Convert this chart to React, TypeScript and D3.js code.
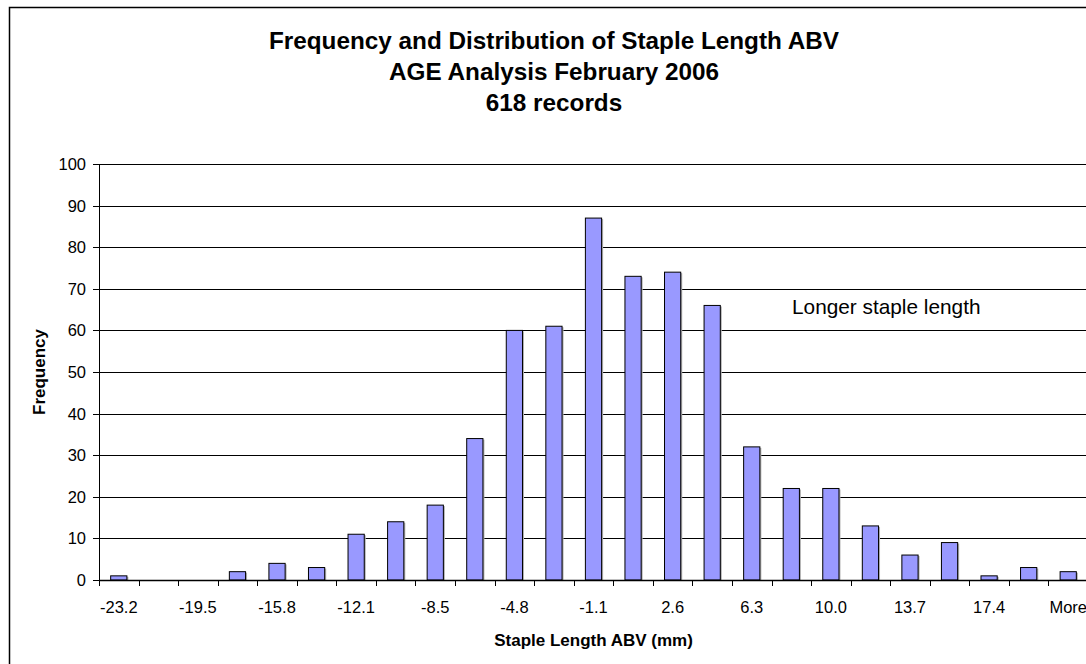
import { scaleBand, scaleLinear } from 'd3'

const binLabels = [
  '-23.2', '-21.4', '-19.5', '-17.7', '-15.8', '-14.0', '-12.1', '-10.3', '-8.5', '-6.6',
  '-4.8', '-2.9', '-1.1', '0.8', '2.6', '4.5', '6.3', '8.1', '10.0', '11.8',
  '13.7', '15.5', '17.4', '19.2', 'More',
]
const frequency = [1, 0, 0, 2, 4, 3, 11, 14, 18, 34, 60, 61, 87, 73, 74, 66, 32, 22, 22, 13, 6, 9, 1, 3, 2]
const yTicks = [0, 10, 20, 30, 40, 50, 60, 70, 80, 90, 100]
const titleLines = ['Frequency and Distribution of Staple Length ABV', 'AGE Analysis February 2006', '618 records']

const font = '"Liberation Sans", Arial, sans-serif'

export default function App() {
  const width = 1086
  const height = 664
  const left = 99
  const right = 1088
  const top = 164
  const bottom = 580

  const x = scaleBand<string>().domain(binLabels).range([left, right]).paddingInner(0.59).paddingOuter(0.295)
  const y = scaleLinear().domain([0, 100]).range([bottom, top])
  const step = x.step()

  return (
    <svg
      width={width}
      height={height}
      viewBox={`0 0 ${width} ${height}`}
      style={{ position: 'absolute', left: 0, top: 0, background: '#fff' }}
      fontFamily={font}
    >
      <rect x={9.5} y={7.5} width={1110} height={700} fill="#fff" stroke="#000" strokeWidth={1.5} />

      {titleLines.map((line, i) => (
        <text key={line} x={554} y={49 + i * 31} textAnchor="middle" fontSize={24.3} fontWeight="bold" fill="#000">
          {line}
        </text>
      ))}

      {yTicks.map((t) => (
        <g key={t}>
          {t > 0 && <line x1={left} x2={right + 10} y1={Math.round(y(t)) + 0.5} y2={Math.round(y(t)) + 0.5} stroke="#000" strokeWidth={1} />}
          <line x1={left - 6} x2={left} y1={Math.round(y(t)) + 0.5} y2={Math.round(y(t)) + 0.5} stroke="#000" />
          <text x={86} y={y(t)} dy="0.36em" textAnchor="end" fontSize={16.5} fill="#000">
            {t}
          </text>
        </g>
      ))}

      {frequency.map((v, i) => {
        if (v === 0) return null
        const bx = x(binLabels[i]) ?? 0
        const by = y(v)
        return (
          <g key={binLabels[i]}>
            <rect x={bx + 1.5} y={by + 1} width={x.bandwidth()} height={bottom - by} fill="#b0b0b0" />
            <rect x={bx} y={by} width={x.bandwidth()} height={bottom - by} fill="#9999ff" stroke="#000" strokeWidth={1} />
          </g>
        )
      })}

      <line x1={left + 0.5} x2={left + 0.5} y1={top} y2={bottom} stroke="#000" />
      <line x1={left} x2={right + 10} y1={bottom + 0.5} y2={bottom + 0.5} stroke="#000" strokeWidth={1.5} />

      {binLabels.map((b, i) => (
        <line
          key={b}
          x1={Math.round(left + i * step) + 0.5}
          x2={Math.round(left + i * step) + 0.5}
          y1={bottom}
          y2={bottom + 6}
          stroke="#000"
        />
      ))}

      {binLabels.map((b, i) =>
        i % 2 === 0 ? (
          <text key={b} x={(x(b) ?? 0) + x.bandwidth() / 2} y={613} textAnchor="middle" fontSize={16.5} fill="#000">
            {b}
          </text>
        ) : null,
      )}

      <text x={(left + right) / 2} y={646} textAnchor="middle" fontSize={17} fontWeight="bold" fill="#000">
        Staple Length ABV (mm)
      </text>
      <text transform="translate(45,372) rotate(-90)" textAnchor="middle" fontSize={17} fontWeight="bold" fill="#000">
        Frequency
      </text>

      <text x={792} y={314} fontSize={20.8} fill="#000">
        Longer staple length
      </text>
    </svg>
  )
}
